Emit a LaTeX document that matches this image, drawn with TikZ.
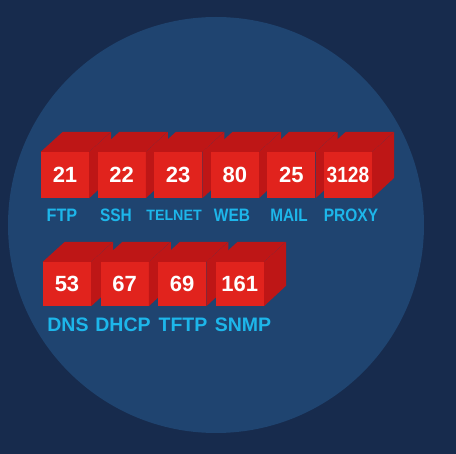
\documentclass[tikz,border=0pt]{standalone}
\usepackage{fontspec}
\setmainfont{Liberation Sans}
\definecolor{bgnavy}{HTML}{172B4D}
\definecolor{discblue}{HTML}{1F4470}
\definecolor{frontred}{HTML}{E1231D}
\definecolor{sidered}{HTML}{BE1616}
\definecolor{lblcyan}{HTML}{1DB6EA}
\tikzset{
  port/.style={fill=frontred, minimum width=48pt, minimum height=46pt,
    inner sep=0pt, text=white, font=\bfseries\fontsize{22}{24}\selectfont},
  lbl/.style={text=lblcyan, inner sep=0pt},
  back/.style={fill=sidered},
}

\begin{document}
\begin{tikzpicture}[x=1pt,y=-1pt]
  \fill[bgnavy] (0,0) rectangle (456,454); %background
  \useasboundingbox (0,0) rectangle (456,454);
  \fill[discblue] (216,225) circle[radius=208pt]; %disc
  % row 1
  \foreach \i/\num/\lx/\fs/\sc/\lbl in {0/21/62/18/0.9/FTP, 1/22/116/18/0.86/SSH,
      2/23/174/15/0.95/TELNET, 3/80/232/18/0.86/WEB, 4/25/289/18/0.85/MAIL,
      5/{\scalebox{0.87}[1]{3128}}/351/18/0.86/PROXY}{
    \node[port] (p\i) at (65+56.6*\i,175) {\num};
    \fill[back] (p\i.north west) -- ++(22,-20) -- ++(48,0) -- (p\i.north east) -- cycle; %top
    \fill[back] (p\i.north east) -- ++(22,-20) -- ++(0,46) -- (p\i.south east) -- cycle; %side
    \node[lbl, font=\bfseries\fontsize{\fs}{\fs}\selectfont] (l\i) at (\lx,215)
      {\scalebox{\sc}[1]{\lbl}};
  }
  % row 2
  \foreach \i/\num/\lx/\lbl in {0/53/68/DNS, 1/67/123/DHCP, 2/69/183/TFTP, 3/161/243/SNMP}{
    \node[port, minimum height=44pt] (q\i) at (67+57.6*\i,284) {\num};
    \fill[back] (q\i.north west) -- ++(22,-20) -- ++(48,0) -- (q\i.north east) -- cycle; %top
    \fill[back] (q\i.north east) -- ++(22,-20) -- ++(0,44) -- (q\i.south east) -- cycle; %side
    \node[lbl, font=\bfseries\fontsize{19.5}{20}\selectfont] (m\i) at (\lx,325) {\lbl};
  }
\end{tikzpicture}
\end{document}
